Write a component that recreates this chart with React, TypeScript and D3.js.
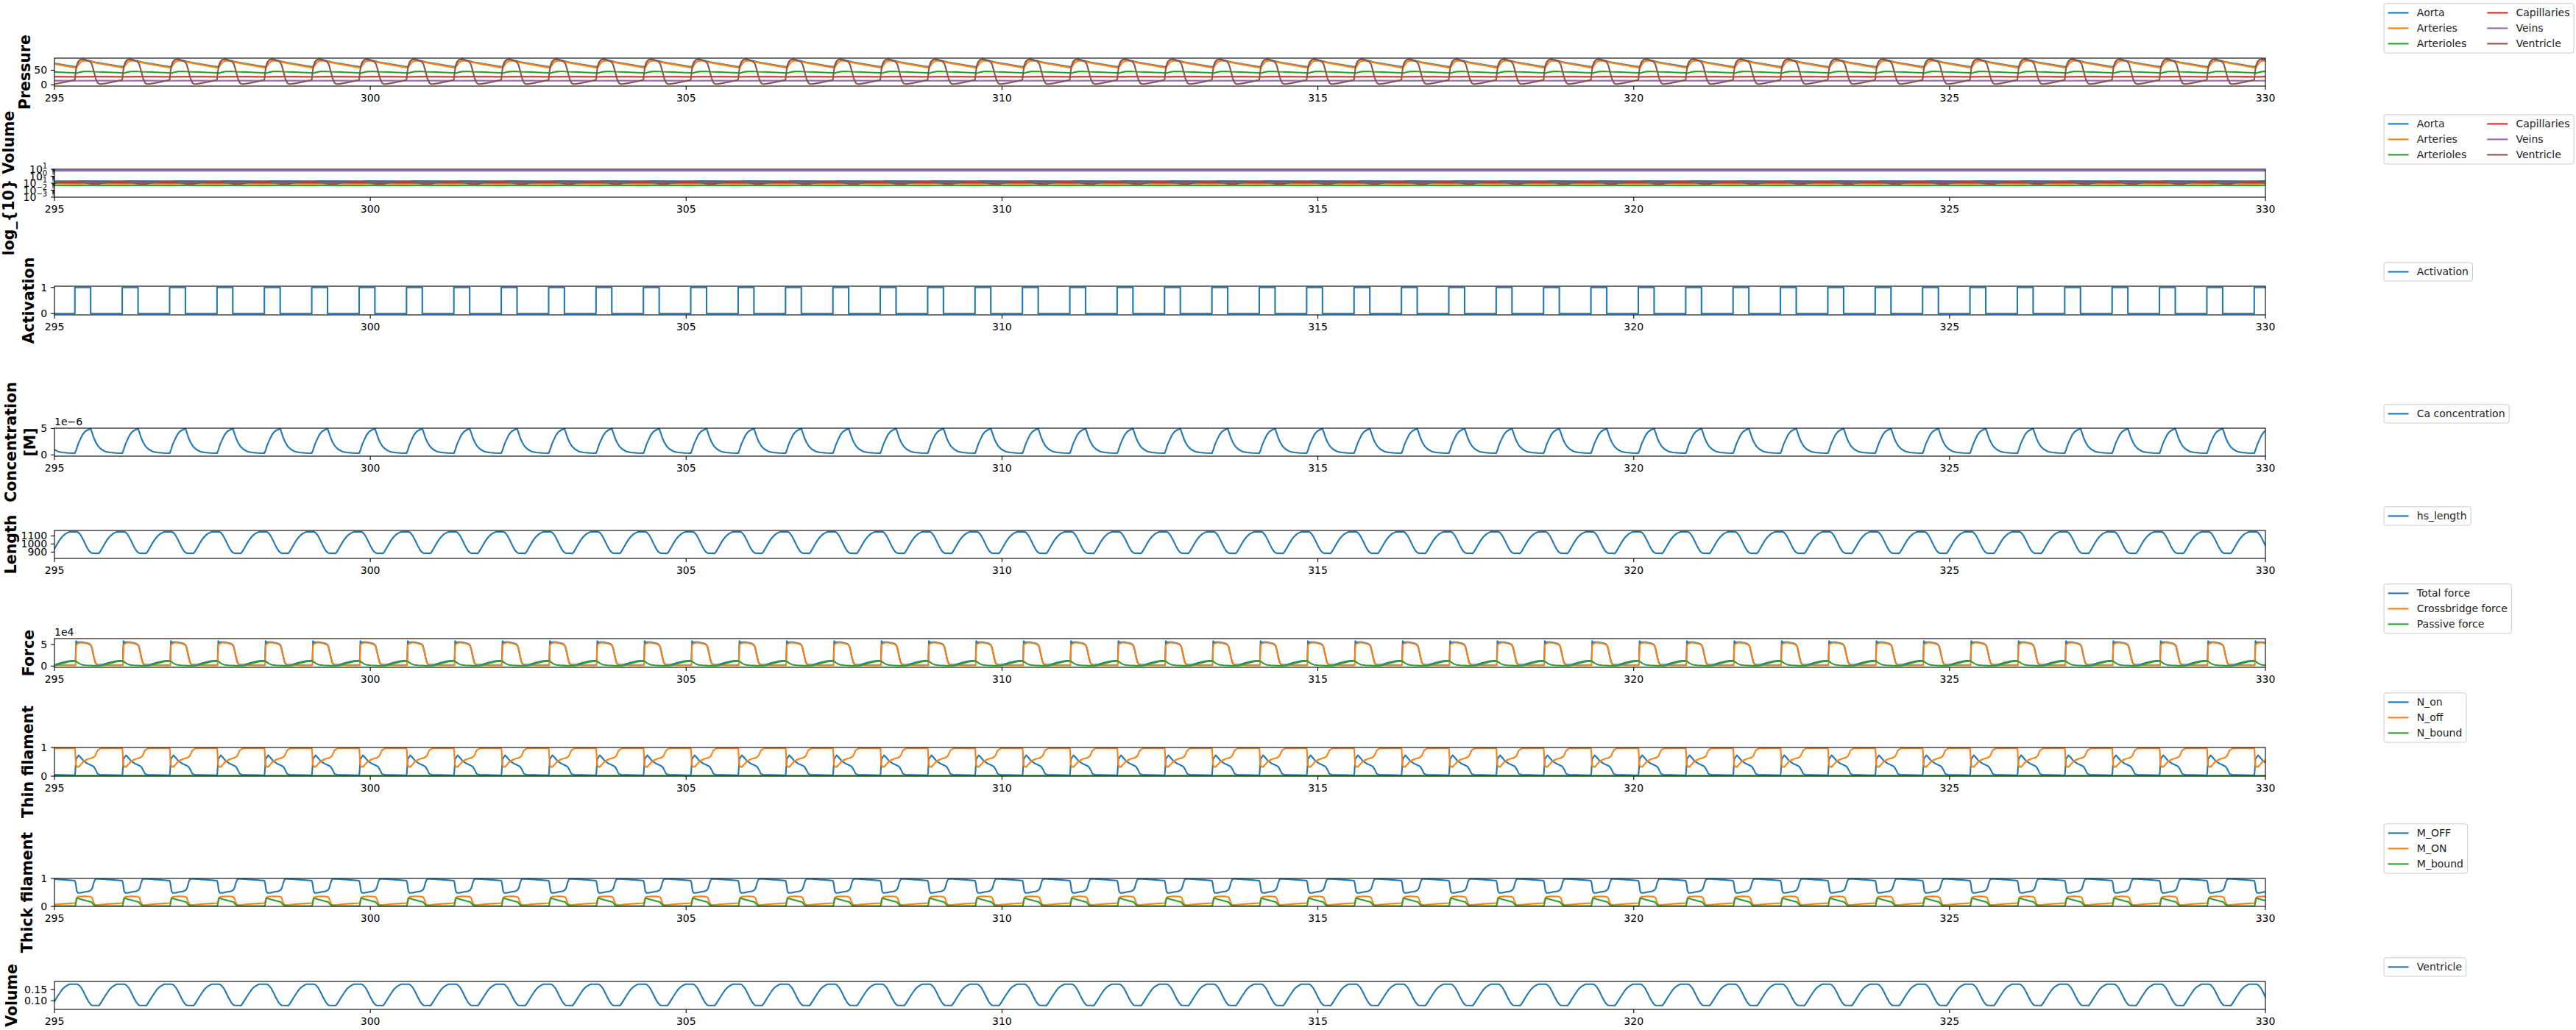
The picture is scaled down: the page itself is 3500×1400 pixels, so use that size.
import React from 'react';
import * as d3 from 'd3';

// time axis
const T_START = 295;
const T_END = 330;
const PERIOD = 0.75;       // one beat
const ONSET = 295.323;     // first activation onset in the window
const xTicks = [295, 300, 305, 310, 315, 320, 325, 330];

// one beat of each trace: [seconds after activation onset, value]
// pressure (mmHg)
const aortaP = [[0, 62], [0.025, 63], [0.05, 78], [0.08, 85], [0.12, 87.5], [0.16, 86.7], [0.2, 84], [0.24, 82], [0.27, 80], [0.3, 78], [0.75, 62]];
const arteriesP = [[0, 59], [0.03, 60], [0.06, 70], [0.09, 78], [0.13, 82], [0.17, 82.5], [0.22, 81], [0.27, 78], [0.32, 76], [0.75, 59]];
const arteriolesP = [[0, 41], [0.03, 40], [0.08, 43.3], [0.14, 45.8], [0.22, 46], [0.3, 45], [0.45, 44], [0.6, 42.5], [0.75, 41]];
const capillariesP = [[0, 27.3], [0.2, 28], [0.5, 27.8], [0.75, 27.3]];
const veinsP = [[0, 14], [0.4, 14.3], [0.75, 14]];
const ventricleP = [[0, 16.7], [0.01, 38], [0.025, 62], [0.05, 78], [0.08, 85], [0.12, 87.5], [0.16, 86], [0.2, 83], [0.24, 80], [0.27, 70], [0.3, 47], [0.33, 22], [0.36, 7], [0.39, 2.5], [0.42, 2.5], [0.5, 5.5], [0.6, 9.8], [0.7, 14.3], [0.75, 16.7]];

// volumes (L)
const aortaV = [[0, 0.19], [0.1, 0.2], [0.3, 0.2], [0.75, 0.19]];
const arteriesV = [[0, 0.082], [0.15, 0.09], [0.4, 0.088], [0.75, 0.082]];
const arteriolesV = [[0, 0.047], [0.2, 0.05], [0.75, 0.047]];
const capillariesV = [[0, 0.118], [0.3, 0.122], [0.75, 0.118]];
const veinsV = [[0, 6.0], [0.4, 5.95], [0.75, 6.0]];
const ventricleV = [[0, 0.173], [0.036, 0.173], [0.06, 0.17], [0.1, 0.158], [0.14, 0.138], [0.18, 0.115], [0.22, 0.095], [0.25, 0.084], [0.27, 0.08], [0.38, 0.079], [0.4, 0.086], [0.43, 0.099], [0.47, 0.117], [0.51, 0.134], [0.55, 0.15], [0.6, 0.163], [0.65, 0.171], [0.67, 0.173], [0.75, 0.173]];

const activation = [[0, 0], [0, 1], [0.25, 1], [0.25, 0], [0.75, 0]];

// Ca (x1e-6 M)
const calcium = [[0, 0.32], [0.02, 0.9], [0.05, 2.0], [0.08, 2.8], [0.12, 3.8], [0.16, 4.4], [0.2, 4.7], [0.24, 4.9], [0.25, 4.95], [0.27, 4.3], [0.3, 3.2], [0.33, 2.4], [0.37, 1.6], [0.42, 1.05], [0.48, 0.64], [0.55, 0.45], [0.65, 0.36], [0.75, 0.32]];

// half-sarcomere length (nm)
const hsLength = [[0, 1150], [0.036, 1150], [0.06, 1140], [0.1, 1100], [0.14, 1040], [0.18, 975], [0.22, 920], [0.25, 895], [0.27, 886], [0.38, 884], [0.4, 905], [0.43, 945], [0.47, 1000], [0.51, 1050], [0.55, 1090], [0.6, 1125], [0.65, 1145], [0.67, 1150], [0.75, 1150]];

// force (x1e4)
const totalForce = [[0, 1.25], [0.01, 1.25], [0.02, 5.8], [0.03, 5.55], [0.05, 5.5], [0.08, 5.55], [0.12, 5.55], [0.16, 5.45], [0.2, 5.3], [0.24, 5.05], [0.26, 4.7], [0.28, 3.6], [0.3, 2.2], [0.32, 1.0], [0.34, 0.45], [0.36, 0.33], [0.4, 0.3], [0.45, 0.4], [0.5, 0.6], [0.55, 0.83], [0.6, 1.0], [0.65, 1.15], [0.7, 1.25], [0.75, 1.25]];
const cbForce = [[0, 0.2], [0.01, 0.2], [0.02, 4.9], [0.04, 5.2], [0.08, 5.45], [0.12, 5.45], [0.16, 5.35], [0.2, 5.2], [0.24, 4.95], [0.26, 4.6], [0.28, 3.5], [0.3, 2.1], [0.32, 0.9], [0.34, 0.35], [0.36, 0.23], [0.75, 0.2]];
const passiveForce = [[0, 1.15], [0.02, 1.1], [0.05, 0.75], [0.08, 0.5], [0.12, 0.28], [0.18, 0.17], [0.3, 0.1], [0.4, 0.1], [0.45, 0.2], [0.5, 0.4], [0.55, 0.63], [0.6, 0.8], [0.65, 0.98], [0.7, 1.1], [0.75, 1.15]];

// thin filament
const nOn = [[0, 0.03], [0.005, 0.1], [0.02, 0.6], [0.06, 0.73], [0.09, 0.66], [0.14, 0.53], [0.2, 0.44], [0.26, 0.38], [0.3, 0.33], [0.33, 0.22], [0.36, 0.08], [0.4, 0.05], [0.75, 0.03]];
const nOff = [[0, 0.97], [0.005, 0.9], [0.015, 0.42], [0.03, 0.33], [0.06, 0.32], [0.1, 0.42], [0.14, 0.52], [0.2, 0.59], [0.28, 0.64], [0.32, 0.7], [0.36, 0.9], [0.41, 0.97], [0.75, 0.97]];
const nBound = [[0, 0.01], [0.05, 0.02], [0.3, 0.02], [0.4, 0.01], [0.75, 0.01]];

// thick filament
const mOff = [[0, 0.92], [0.01, 0.85], [0.03, 0.54], [0.05, 0.48], [0.1, 0.49], [0.16, 0.52], [0.22, 0.54], [0.26, 0.59], [0.28, 0.68], [0.3, 0.85], [0.32, 0.96], [0.34, 0.99], [0.4, 0.98], [0.6, 0.95], [0.75, 0.92]];
const mOn = [[0, 0.12], [0.01, 0.14], [0.03, 0.31], [0.06, 0.35], [0.15, 0.36], [0.24, 0.35], [0.27, 0.32], [0.29, 0.19], [0.31, 0.08], [0.33, 0.05], [0.4, 0.06], [0.55, 0.09], [0.75, 0.12]];
const mBound = [[0, 0.02], [0.01, 0.05], [0.03, 0.28], [0.05, 0.29], [0.12, 0.24], [0.2, 0.19], [0.26, 0.16], [0.29, 0.08], [0.31, 0.03], [0.34, 0.01], [0.75, 0.01]];

const C = ['#1f77b4', '#ff7f0e', '#2ca02c', '#d62728', '#9467bd', '#8c564b'];
const compartments = ['Aorta', 'Arteries', 'Arterioles', 'Capillaries', 'Veins', 'Ventricle'];

const W = 3500, H = 1400;
const AX_L = 74, AX_R = 3078;
const FONT = 'DejaVu Sans, Verdana, sans-serif';
const FS = 14;

const panels = [
  { top: 79, bottom: 117, label: ['Pressure'], labelX: [34], domain: [-4.3, 91.5], ticks: [0, 50], tickFmt: (v: number) => `${v}`,
    series: [aortaP, arteriesP, arteriolesP, capillariesP, veinsP, ventricleP], names: compartments, cols: 2 },
  { top: 230, bottom: 268, label: ['log_{10} Volume'], labelX: [12], domain: [0.001, 10], log: true,
    series: [aortaV, arteriesV, arteriolesV, capillariesV, veinsV, ventricleV], names: compartments, cols: 2 },
  { top: 389, bottom: 428, label: ['Activation'], labelX: [39], domain: [-0.05, 1.05], ticks: [0, 1], tickFmt: (v: number) => `${v}`,
    series: [activation], names: ['Activation'], cols: 1 },
  { top: 582, bottom: 620, label: ['Concentration', '[M]'], labelX: [15, 41], domain: [-0.24, 5.05], ticks: [0, 5], tickFmt: (v: number) => `${v}`, offset: '1e\u22126',
    series: [calcium], names: ['Ca concentration'], cols: 1 },
  { top: 721, bottom: 759, label: ['Length'], labelX: [15], domain: [822, 1167], ticks: [900, 1000, 1100], tickFmt: (v: number) => `${v}`,
    series: [hsLength], names: ['hs_length'], cols: 1 },
  { top: 868, bottom: 907, label: ['Force'], labelX: [39], domain: [-0.29, 6.38], ticks: [0, 5], tickFmt: (v: number) => `${v}`, offset: '1e4',
    series: [totalForce, cbForce, passiveForce], names: ['Total force', 'Crossbridge force', 'Passive force'], cols: 1 },
  { top: 1016, bottom: 1055, label: ['Thin filament'], labelX: [38], domain: [0, 1.0], ticks: [0, 1], tickFmt: (v: number) => `${v}`,
    series: [nOn, nOff, nBound], names: ['N_on', 'N_off', 'N_bound'], cols: 1 },
  { top: 1194, bottom: 1232, label: ['Thick filament'], labelX: [37], domain: [0, 1.0], ticks: [0, 1], tickFmt: (v: number) => `${v}`,
    series: [mOff, mOn, mBound], names: ['M_OFF', 'M_ON', 'M_bound'], cols: 1 },
  { top: 1334, bottom: 1372, label: ['Volume'], labelX: [16], domain: [0.062, 0.185], ticks: [0.1, 0.15], tickFmt: (v: number) => v.toFixed(2),
    series: [ventricleV], names: ['Ventricle'], cols: 1 },
];

// repeat one beat over the whole window
const tile = (beat: number[][]) => {
  const out: [number, number][] = [];
  for (let k = -1; k <= 47; k++) {
    for (const [ph, v] of beat) out.push([ONSET + k * PERIOD + ph, v]);
  }
  return out;
};

let ctx: CanvasRenderingContext2D | null = null;
const textW = (s: string) => {
  if (!ctx) ctx = document.createElement('canvas').getContext('2d');
  ctx!.font = `${FS}px ${FONT}`;
  return ctx!.measureText(s).width;
};

const x = d3.scaleLinear().domain([T_START, T_END]).range([AX_L, AX_R]);

const Legend = ({ p, top }: { p: any; top: number }) => {
  const pad = 0.4 * FS, handle = 2 * FS, hpad = 0.8 * FS, colSp = 2 * FS, rowSp = 0.5 * FS;
  const rows = Math.ceil(p.names.length / p.cols);
  const colW: number[] = [];
  for (let c = 0; c < p.cols; c++) {
    const names = p.names.slice(c * rows, (c + 1) * rows);
    colW.push(handle + hpad + Math.max(...names.map(textW)));
  }
  const w = 2 * pad + d3.sum(colW) + colSp * (p.cols - 1);
  const h = 2 * pad + rows * FS + (rows - 1) * rowSp;
  const left = 3239;
  const boxTop = top - 7 - h;
  return (
    <g>
      <rect x={left} y={boxTop} width={w} height={h} rx={3} fill="white" fillOpacity={0.8} stroke="#cccccc" strokeWidth={1} />
      {p.names.map((n: string, i: number) => {
        const c = Math.floor(i / rows), r = i % rows;
        const cx = left + pad + d3.sum(colW.slice(0, c)) + colSp * c;
        const cy = boxTop + pad + FS / 2 + r * (FS + rowSp);
        return (
          <g key={n}>
            <line x1={cx} x2={cx + handle} y1={cy} y2={cy} stroke={C[i]} strokeWidth={2.1} />
            <text x={cx + handle + hpad} y={cy + 5} fontSize={FS} fontFamily={FONT} fill="#222">{n}</text>
          </g>
        );
      })}
    </g>
  );
};

const Panel = ({ p, idx }: { p: any; idx: number }) => {
  const y = p.log
    ? d3.scaleLog().domain(p.domain).range([p.bottom, p.top])
    : d3.scaleLinear().domain(p.domain).range([p.bottom, p.top]);
  const line = d3.line<[number, number]>().x(d => x(d[0])).y(d => y(d[1]));
  const clipId = `clip${idx}`;
  const mid = (p.top + p.bottom) / 2;
  const minor: number[] = [];
  if (p.log) for (let e = -3; e < 1; e++) for (let m = 2; m < 10; m++) minor.push(m * Math.pow(10, e));
  return (
    <g>
      <clipPath id={clipId}><rect x={AX_L} y={p.top} width={AX_R - AX_L} height={p.bottom - p.top} /></clipPath>
      <g clipPath={`url(#${clipId})`}>
        {p.series.map((s: number[][], i: number) => (
          <path key={i} d={line(tile(s)) || ''} fill="none" stroke={C[i]} strokeWidth={2.1} strokeLinejoin="round" />
        ))}
      </g>
      <rect x={AX_L} y={p.top} width={AX_R - AX_L} height={p.bottom - p.top} fill="none" stroke="black" strokeWidth={1.1} />
      {xTicks.map(t => (
        <g key={t}>
          <line x1={x(t)} x2={x(t)} y1={p.bottom} y2={p.bottom + 4.9} stroke="black" strokeWidth={1.1} />
          <text x={x(t)} y={p.bottom + 21} textAnchor="middle" fontSize={FS} fontFamily={FONT}>{t}</text>
        </g>
      ))}
      {p.log ? (
        <g>
          {minor.map(v => (
            <line key={v} x1={AX_L - 2.8} x2={AX_L} y1={y(v)} y2={y(v)} stroke="black" strokeWidth={0.8} />
          ))}
          {[-3, -2, -1, 0, 1].map(e => (
            <g key={e}>
              <line x1={AX_L - 4.9} x2={AX_L} y1={y(Math.pow(10, e))} y2={y(Math.pow(10, e))} stroke="black" strokeWidth={1.1} />
              <text x={AX_L - 9.8} y={y(Math.pow(10, e)) + 5} textAnchor="end" fontSize={FS} fontFamily={FONT}>
                10<tspan dy={-6} fontSize={10}>{e < 0 ? `\u2212${-e}` : `${e}`}</tspan>
              </text>
            </g>
          ))}
        </g>
      ) : (
        p.ticks.map((v: number) => (
          <g key={v}>
            <line x1={AX_L - 4.9} x2={AX_L} y1={y(v)} y2={y(v)} stroke="black" strokeWidth={1.1} />
            <text x={AX_L - 9.8} y={y(v) + 5} textAnchor="end" fontSize={FS} fontFamily={FONT}>{p.tickFmt(v)}</text>
          </g>
        ))
      )}
      {p.offset && (
        <text x={AX_L} y={p.top - 4} fontSize={FS} fontFamily={FONT}>{p.offset}</text>
      )}
      {p.label.map((l: string, i: number) => (
        <text key={l} transform={`translate(${p.labelX[i]},${mid}) rotate(-90)`} textAnchor="middle" dominantBaseline="central"
          fontSize={20.5} fontWeight="bold" fontFamily={FONT}>{l}</text>
      ))}
      <Legend p={p} top={p.top} />
    </g>
  );
};

const App = () => (
  <svg width={W} height={H} style={{ position: 'absolute', left: 0, top: 0, background: 'white' }}>
    <rect width={W} height={H} fill="white" />
    {panels.map((p, i) => <Panel key={i} p={p} idx={i} />)}
  </svg>
);

export default App;
